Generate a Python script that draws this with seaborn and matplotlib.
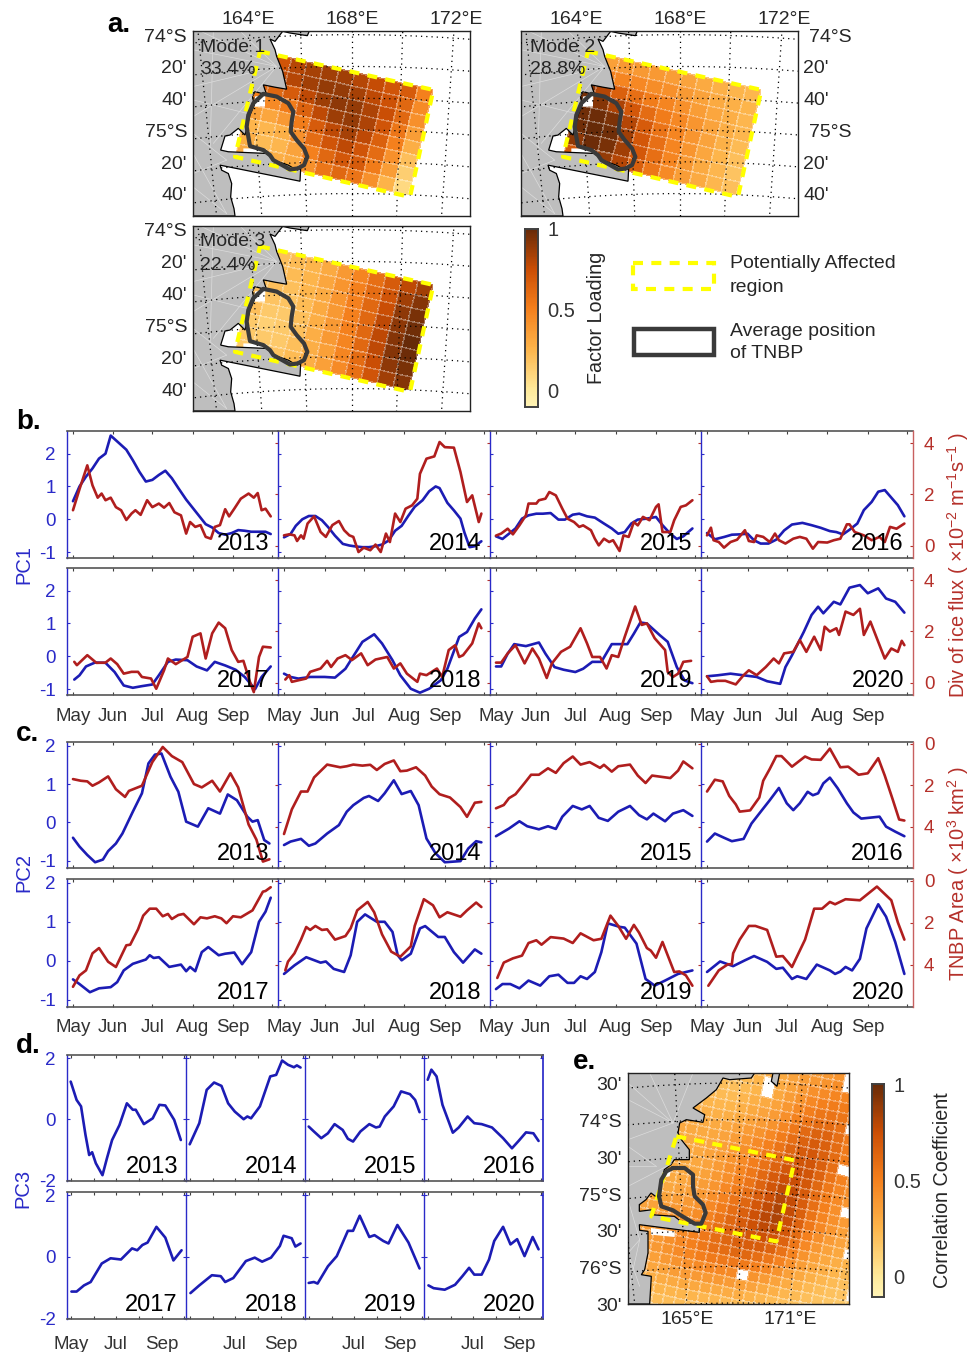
import numpy as np
import pandas as pd
import matplotlib
matplotlib.use("Agg")
import matplotlib.pyplot as plt
from matplotlib.colors import LinearSegmentedColormap
from matplotlib.patches import Polygon, Rectangle
import seaborn as sns

# (day since 1 May, value)
pc1_2013 = [(0,.55),(5,1.0),(10,1.3),(15,1.55),(20,1.85),(25,2.0),(29,2.55),(36,2.3),(41,2.12),(46,1.8),(51,1.45),(56,1.15),(61,1.2),(66,1.35),(71,1.48),(76,1.25),(81,.95),(87,.6),(92,.35),(97,.1),(102,-.15),(107,-.25),(112,-.42),(117,-.47),(122,-.42),(127,-.33),(132,-.35),(137,-.38),(142,-.38),(148,-.38),(152,-.45)]
pc1_2014 = [(0,-.55),(5,-.45),(9,-.2),(14,0),(19,.1),(24,.1),(29,-.03),(34,-.25),(39,-.5),(45,-.75),(50,-.8),(55,-.83),(60,-.85),(65,-.85),(70,-.82),(75,-.77),(80,-.65),(85,-.35),(90,-.2),(95,.1),(100,.38),(106,.58),(111,.85),(116,1.0),(119,.95),(125,.5),(130,.27),(135,.02),(138,-.4),(142,-.85),(146,-.82),(151,-.67)]
pc1_2015 = [(0,-.52),(5,-.6),(10,-.44),(15,-.28),(20,.02),(25,.12),(31,.17),(36,.17),(42,.19),(48,-.01),(53,-.01),(59,.14),(64,.17),(70,.09),(76,.05),(83,-.13),(89,-.28),(94,-.44),(99,-.39),(104,-.13),(109,-.01),(116,.02),(123,.07),(128,-.18),(134,-.44),(139,-.6),(144,-.52),(151,-.28)]
pc1_2016 = [(0,-.42),(6,-.61),(13,-.54),(19,-.47),(25,-.46),(31,-.44),(36,-.64),(41,-.74),(47,-.74),(53,-.62),(59,-.34),(65,-.16),(73,-.11),(80,-.18),(87,-.26),(94,-.36),(99,-.39),(104,-.46),(109,-.32),(115,-.13),(120,.28),(126,.53),(131,.84),(136,.89),(141,.66),(146,.43),(151,.09)]
pc1_2017 = [(1,-.71),(5,-.58),(10,-.31),(17,-.19),(25,-.2),(32,-.48),(39,-.89),(46,-.96),(53,-.91),(61,-.86),(66,-.58),(73,-.17),(79,-.1),(88,-.12),(95,-.31),(103,-.43),(109,-.17),(117,-.28),(125,-.41),(132,-.63),(140,-1),(145,-.63),(152,-.31)]
pc1_2018 = [(0,-.53),(5,-.63),(11,-.68),(20,-.63),(31,-.63),(39,-.65),(47,-.38),(53,0),(60,.44),(69,.67),(75,.39),(83,-.12),(89,-.58),(97,-.99),(104,-1.11),(111,-.99),(120,-.73),(125,-.38),(134,.59),(140,.74),(146,1.15),(151,1.43)]
pc1_2019 = [(0,-.31),(4,-.31),(9,.08),(14,.37),(23,.31),(33,.42),(38,.08),(45,-.33),(52,-.41),(61,-.48),(67,-.38),(74,-.17),(81,-.17),(89,.37),(101,.37),(106,.69),(111,1.03),(116,1),(126,.64),(132,.44),(139,-.33),(145,-.74),(151,-.82)]
pc1_2020 = [(0,-.61),(8,-.58),(18,-.53),(28,-.58),(38,-.63),(46,-.76),(56,-.84),(60,-.33),(65,.03),(74,.74),(80,1.26),(85,1.51),(89,1.31),(97,1.66),(102,1.58),(109,2.09),(117,2.17),(123,1.92),(131,2.07),(137,1.76),(144,1.66),(151,1.33)]

flux_2013 = [(0,1.38),(5,2.2),(11,3.13),(15,2.35),(19,1.87),(22,2.03),(25,1.77),(29,1.87),(33,1.5),(37,1.38),(41,1.0),(45,1.25),(48,1.38),(52,1.2),(57,1.77),(61,1.5),(66,1.64),(70,1.48),(74,1.66),(78,1.3),(83,1.18),(87,.47),(90,.92),(94,.73),(98,.8),(102,.34),(106,.27),(109,.73),(113,.8),(117,1.42),(120,1.14),(124,1.44),(129,1.83),(135,2.03),(139,1.87),(142,2.05),(145,1.38),(148,1.44),(152,1.14)]
flux_2014 = [(0,.4),(4,.44),(8,.4),(10,.18),(13,.4),(15,.27),(18,.86),(23,1.14),(28,.53),(32,.34),(37,.8),(42,.96),(46,.6),(50,.4),(53,.34),(57,-.25),(61,-.08),(66,-.18),(70,.04),(74,-.25),(78,.47),(81,.14),(85,1.25),(89,.92),(93,1.44),(98,1.57),(102,1.83),(104,2.8),(109,3.39),(115,3.48),(119,4.04),(123,3.84),(130,3.82),(135,2.87),(140,1.7),(144,1.96),(149,.92),(151,1.25)]
flux_2015 = [(0,.39),(4,.47),(9,.66),(13,.44),(18,.79),(23,1.18),(25,1.64),(31,1.64),(33,1.77),(38,1.83),(41,2.09),(46,1.96),(51,1.44),(55,1.05),(60,.92),(64,.73),(67,.79),(73,.6),(76,.27),(79,.01),(83,.27),(87,.14),(90,.21),(95,-.21),(98,.4),(102,.34),(106,.92),(109,.79),(113,1.12),(118,.99),(123,1.51),(125,1.61),(128,.53),(134,.53),(137,.99),(142,1.51),(146,1.57),(151,1.77)]
flux_2016 = [(0,.4),(3,.7),(5,.21),(9,.14),(13,-.08),(18,.14),(23,.23),(29,.6),(32,.18),(36,.14),(38,.4),(43,.34),(48,.14),(52,.47),(55,.21),(60,.08),(66,.27),(71,.34),(76,.27),(81,-.12),(85,.14),(92,.12),(97,.21),(102,.27),(107,.83),(109,.83),(113,.53),(120,.4),(126,.21),(132,.34),(136,.14),(140,.73),(145,.66),(151,.86)]
flux_2017 = [(1,.81),(3,.68),(11,1.07),(18,.77),(25,.78),(29,.94),(34,.72),(39,.35),(45,.42),(50,.42),(53,.22),(60,.16),(64,-.24),(70,.48),(73,.94),(79,.72),(88,1.0),(92,1.79),(98,1.92),(102,.94),(107,1.92),(112,2.34),(117,2.12),(122,1.27),(127,.81),(131,.85),(136,.03),(139,-.37),(143,1.0),(146,1.4),(152,1.37)]
flux_2018 = [(1,.12),(4,.29),(6,.03),(11,.09),(17,.16),(20,.42),(28,.55),(33,.85),(36,.61),(41,.94),(47,1.07),(52,.88),(59,1.14),(64,.68),(70,.9),(79,1.0),(84,.55),(89,.75),(94,.35),(102,.03),(104,.35),(109,.29),(117,.55),(121,.22),(126,1.27),(131,1.46),(134,1.0),(137,1.07),(144,1.53),(149,2.31),(151,2.12)]
flux_2019 = [(0,.78),(4,.78),(9,1.14),(15,1.46),(22,.75),(28,1.33),(33,.94),(39,.18),(43,.75),(50,1.2),(57,1.4),(65,2.12),(70,1.53),(74,1),(80,1),(85,.55),(89,1.07),(94,1),(99,1.79),(107,2.97),(112,2.25),(116,2.31),(122,1.73),(130,1.27),(132,.42),(136,.22),(140,.35),(144,.81),(150,.85)]
flux_2020 = [(0,.25),(3,.03),(8,.07),(14,.07),(22,-.07),(28,.29),(32,.48),(38,.29),(45,.61),(51,.94),(55,.75),(59,1.14),(66,1.2),(71,1.66),(76,1.2),(82,1.79),(87,1.27),(90,2.18),(94,1.99),(99,2.12),(101,1.86),(106,2.77),(112,2.64),(117,2.88),(120,1.86),(125,2.38),(132,1.46),(136,.94),(141,1.33),(146,1.2),(149,1.63),(151,1.46)]

pc2_2013 = [(0,-.4),(5,-.63),(11,-.85),(17,-1.04),(23,-.97),(27,-.75),(33,-.55),(38,-.29),(46,.28),(53,.76),(58,1.54),(63,1.77),(68,1.8),(75,1.19),(81,.8),(87,.02),(96,-.11),(104,.37),(113,.23),(119,.73),(126,.58),(134,.15),(138,.02),(142,.06),(147,-.46),(151,-.55)]
pc2_2014 = [(0,-.59),(5,-.5),(13,-.43),(19,-.61),(24,-.55),(33,-.29),(42,-.07),(48,.28),(53,.45),(61,.64),(65,.69),(72,.56),(77,.76),(84,1.1),(90,.74),(97,.82),(103,.45),(109,-.42),(116,-.81),(123,-1.04),(135,-1.01),(141,-.68),(147,-.49),(151,-.52)]
pc2_2015 = [(0,-.36),(10,-.16),(18,.03),(24,-.1),(33,-.18),(40,-.1),(46,-.17),(51,.15),(59,.43),(66,.34),(72,.43),(79,.12),(86,.04),(94,.28),(103,.43),(110,.19),(116,.08),(121,.23),(130,.03),(136,.23),(144,.32),(151,.17)]
pc2_2016 = [(0,-.5),(6,-.29),(13,-.4),(19,-.49),(28,-.43),(34,-.03),(42,.32),(48,.58),(55,.9),(61,.5),(66,.32),(71,.5),(77,.8),(81,.71),(85,.76),(89,1.02),(94,1.17),(100,.89),(107,.5),(112,.26),(118,.1),(132,.15),(137,-.11),(144,-.24),(151,-.36)]
pc2_2017 = [(0,-.48),(5,-.6),(13,-.81),(20,-.71),(29,-.68),(34,-.55),(39,-.25),(46,-.08),(56,.03),(59,.14),(62,.07),(66,.09),(74,-.16),(83,-.1),(87,-.27),(90,-.16),(94,-.27),(99,.22),(104,.35),(112,.14),(117,.18),(124,.21),(130,-.09),(137,.22),(143,1),(148,1.26),(152,1.62)]
pc2_2018 = [(0,-.34),(8,-.12),(17,.09),(28,-.05),(32,-.02),(38,-.21),(46,-.29),(51,.14),(56,1),(62,1.19),(71,1),(77,1),(83,.74),(87,.14),(90,.01),(97,.18),(104,.83),(108,.89),(118,.61),(123,.61),(130,.22),(137,-.05),(146,.29),(151,.18)]
pc2_2019 = [(0,-.73),(5,-.6),(11,-.6),(18,-.71),(25,-.51),(34,-.64),(41,-.4),(48,-.36),(55,-.57),(60,-.57),(65,-.4),(70,-.47),(76,-.29),(81,.22),(86,.96),(95,.87),(99,.85),(108,.44),(115,-.47),(122,-.64),(130,-.51),(140,-.34),(151,-.25)]
pc2_2020 = [(0,-.29),(10,-.02),(20,-.14),(29,.01),(36,.12),(46,-.03),(53,-.21),(58,-.18),(65,-.47),(69,-.4),(76,-.47),(84,-.1),(94,-.25),(98,-.34),(102,-.28),(106,-.16),(111,-.25),(117,.05),(122,.83),(131,1.45),(137,1.13),(144,.48),(151,-.34)]

area_2013 = [(0,1.71),(6,1.79),(11,1.82),(15,2.03),(20,1.87),(27,1.58),(33,2.2),(40,2.57),(43,2.28),(53,2.03),(61,.89),(69,.16),(76,.6),(84,.89),(93,1.95),(99,2.11),(107,1.79),(113,2.31),(121,1.43),(127,2.11),(135,3.9),(141,4.63),(146,5.69),(151,5.58)]
area_2014 = [(0,4.36),(6,3.17),(13,2.31),(18,2.31),(23,1.63),(33,1.01),(43,1.14),(48,1.09),(53,1.01),(60,1.06),(66,1.02),(71,1.27),(77,.98),(84,.81),(89,1.33),(94,1.3),(101,1.14),(108,1.54),(113,2.07),(119,2.44),(127,2.6),(135,3.06),(140,3.53),(146,2.85),(151,2.81)]
area_2015 = [(0,3.12),(6,2.96),(10,2.63),(15,2.44),(22,1.9),(27,1.5),(33,1.5),(40,1.19),(46,1.41),(52,.94),(59,.62),(65,1.01),(72,.89),(80,1.17),(83,1.02),(89,1.35),(94,1.09),(103,1.01),(109,1.54),(115,1.9),(120,1.54),(134,1.66),(140,1.3),(144,.86),(151,1.19)]
area_2016 = [(0,2.31),(6,1.74),(12,1.82),(17,2.52),(22,2.93),(25,3.28),(33,3.22),(40,2.6),(43,1.79),(48,1.22),(53,.6),(57,.6),(65,1.11),(75,.62),(80,.76),(87,.78),(94,.24),(102,1.14),(108,1.11),(116,1.5),(123,1.43),(131,.7),(136,1.54),(142,2.68),(147,3.66),(151,3.71)]
area_2017 = [(0,5.04),(5,4.5),(10,4.26),(15,3.45),(20,3.2),(27,3.85),(33,4.1),(41,3.07),(44,3.04),(50,2.31),(54,1.66),(59,1.33),(64,1.33),(69,1.69),(73,1.58),(76,1.82),(81,1.63),(85,1.58),(93,2.07),(98,1.74),(103,1.79),(109,1.69),(114,1.79),(118,2.02),(123,1.69),(129,1.74),(138,1.41),(146,.52),(148,.49),(152,.31)]
area_2018 = [(1,4.26),(3,3.85),(8,3.45),(13,2.8),(17,2.2),(20,2.34),(24,2.15),(29,2.34),(33,2.31),(39,2.8),(47,2.63),(51,2.26),(56,1.41),(64,1.01),(69,1.5),(75,2.55),(82,3.37),(89,3.61),(97,3.12),(100,2.15),(107,.88),(114,1.17),(119,1.74),(125,1.5),(135,1.71),(140,1.41),(147,1.04),(151,1.25)]
area_2019 = [(1,4.62),(6,3.89),(13,3.69),(20,3.56),(25,2.96),(31,2.83),(35,3.04),(42,2.68),(52,2.75),(59,2.96),(65,2.5),(75,2.83),(81,2.76),(88,1.66),(94,2.15),(100,2.76),(106,2.1),(110,2.47),(116,3.2),(119,3.32),(123,3.66),(128,2.91),(137,4.34),(141,4.31),(146,4.5),(151,4.99)]
area_2020 = [(1,4.99),(9,4.26),(16,3.97),(19,3.97),(20,3.45),(25,2.8),(32,2.15),(37,2.15),(46,2.34),(53,3.61),(58,3.58),(65,4.1),(75,2.8),(82,1.33),(88,1.33),(94,1.01),(98,1.12),(106,.88),(117,.93),(130,.28),(141,.93),(146,1.98),(151,2.8)]

pc3_2013 = [(0,1.23),(8,.63),(14,.42),(20,-.51),(25,-1.17),(29,-1.08),(34,-1.44),(43,-1.83),(49,-1.28),(56,-.68),(66,-.19),(76,.52),(84,.31),(88,.31),(99,-.16),(111,.03),(120,.47),(128,.45),(140,-.02),(149,-.68)]
pc3_2014 = [(0,-.82),(13,-.13),(23,.96),(33,1.2),(43,1.09),(52,.52),(61,.25),(73,0),(78,.09),(83,.03),(95,.42),(109,1.4),(117,1.45),(125,1.92),(133,1.78),(141,1.7),(145,1.76),(150,1.69)]
pc3_2015 = [(0,-.24),(7,-.4),(17,-.62),(26,-.46),(35,-.16),(46,-.35),(53,-.64),(60,-.73),(70,-.4),(82,-.16),(91,-.27),(96,-.24),(103,.09),(115,.42),(125,.91),(137,.82),(144,.63),(150,.23)]
pc3_2016 = [(0,1.29),(5,1.62),(12,1.4),(20,.47),(34,-.44),(42,-.27),(54,.09),(63,-.13),(73,-.16),(87,-.27),(102,-.62),(114,-.95),(123,-.71),(133,-.43),(143,-.46),(150,-.71)]
pc3_2017 = [(1,-1.13),(8,-1.13),(18,-.93),(27,-.82),(42,-.22),(54,-.05),(68,-.09),(83,.27),(90,.21),(97,.38),(104,.46),(116,.97),(128,.62),(139,-.12),(150,.21)]
pc3_2018 = [(1,-1.18),(13,-.93),(30,-.6),(42,-.63),(48,-.82),(59,-.69),(76,-.14),(88,-.03),(98,-.16),(110,-.03),(122,.35),(127,.68),(138,.6),(143,.33),(150,.43)]
pc3_2019 = [(0,-.85),(7,-.82),(12,-.87),(26,-.31),(38,.02),(53,.84),(60,.84),(69,1.33),(82,.64),(89,.7),(101,.51),(108,.43),(120,1.03),(135,.46),(150,-.38)]
pc3_2020 = [(1,-.93),(8,-1.02),(23,-1.07),(37,-.91),(47,-.63),(56,-.36),(63,-.58),(73,-.58),(83,-.09),(90,.51),(102,.97),(112,.4),(121,.57),(131,.02),(142,.64),(150,.24)]

years = [2013, 2014, 2015, 2016, 2017, 2018, 2019, 2020]
month_days = [0, 31, 61, 92, 123, 153]
month_labels = ["May", "Jun", "Jul", "Aug", "Sep", ""]

n = np.nan
mode1 = [[n,.72,.80,.84,.85,.85,.80,.76,.72,.68,.50],
         [n,.78,.80,.85,.88,.88,.84,.78,.73,.62,.45],
         [.60,.62,.68,.78,.86,.90,.88,.82,.75,.62,.42],
         [.50,.45,.52,.65,.78,.86,.88,.82,.72,.55,.36],
         [.35,.32,.38,.52,.68,.78,.84,.78,.66,.50,.28],
         [.25,.24,.27,.42,.60,.72,.78,.72,.60,.42,.20],
         [.28,.22,.24,.33,.50,.62,.70,.68,.52,.36,.13],
         [.30,.30,.28,.30,.42,.55,.62,.56,.42,.26,.08]]
mode2 = [[n,.35,.38,.38,.38,.36,.33,.30,.27,.25,.24],
         [n,.50,.48,.46,.44,.42,.38,.34,.30,.27,.25],
         [.90,.80,.66,.58,.52,.48,.42,.36,.32,.28,.24],
         [.96,.92,.82,.70,.60,.52,.46,.40,.33,.28,.24],
         [.97,.98,.94,.80,.68,.56,.48,.40,.33,.27,.22],
         [.97,1.0,.97,.85,.70,.58,.48,.40,.32,.25,.20],
         [.90,.98,.95,.85,.70,.58,.48,.38,.30,.24,.18],
         [.70,.85,.88,.80,.66,.55,.45,.36,.30,.24,.20]]
mode3 = [[n,.20,.22,.25,.30,.38,.48,.58,.68,.78,.85],
         [n,.22,.22,.25,.32,.40,.50,.60,.72,.85,.92],
         [.20,.20,.20,.25,.30,.40,.50,.62,.75,.90,.95],
         [.20,.18,.18,.22,.30,.38,.50,.62,.78,.90,.97],
         [.20,.15,.15,.20,.28,.38,.50,.62,.78,.92,1.0],
         [.15,.12,.15,.20,.28,.38,.48,.62,.78,.92,.98],
         [.15,.15,.15,.20,.28,.35,.48,.60,.75,.90,.95],
         [.15,.15,.18,.22,.28,.35,.45,.58,.72,.85,.92]]

corr = [[20,20,20,20,20,22,22,24,26,28,30,32,34,36,38,40,n,n,n,n,n],
        [20,20,20,20,20,21,22,24,26,28,30,33,36,38,41,44,n,n,n,n,n],
        [20,20,20,20,20,20,20,22,25,n,30,34,38,42,45,48,48,46,44,41,38],
        [20,20,20,20,20,20,20,22,25,n,31,36,41,46,50,52,52,49,46,42,38],
        [24,24,24,24,23,22,22,24,27,30,33,39,45,51,55,56,55,51,47,42,38],
        [26,26,26,26,25,24,25,27,30,33,37,43,49,56,60,60,57,n,n,n,n],
        [28,28,28,27,27,27,28,30,33,37,41,47,54,61,65,64,59,53,47,42,38],
        [30,30,30,29,29,30,31,33,37,41,46,52,59,65,68,66,60,53,47,42,38],
        [30,30,30,30,30,31,33,36,40,45,50,56,63,68,70,66,60,52,46,41,38],
        [30,30,30,30,31,32,35,38,42,48,54,60,66,71,71,66,58,n,n,n,n],
        [30,30,30,30,31,33,36,40,45,51,57,64,70,74,71,64,56,49,44,39,36],
        [30,30,30,30,31,33,37,42,47,54,61,68,74,75,70,62,54,47,42,38,35],
        [30,30,30,30,31,34,38,43,49,56,64,71,77,76,68,60,52,45,40,36,33],
        [30,30,30,31,33,36,40,46,52,59,67,74,80,76,67,58,50,43,n,n,n],
        [30,31,31,33,35,38,43,49,56,63,70,77,82,76,66,56,48,42,37,33,30],
        [32,33,34,36,38,41,46,52,59,66,73,79,82,75,64,54,46,40,35,32,30],
        [33,34,36,38,41,44,49,55,62,68,73,78,78,70,60,50,43,37,33,30,28],
        [34,35,37,40,43,47,52,58,64,68,71,73,72,64,55,46,39,34,31,n,n],
        [35,36,38,41,45,49,54,59,63,66,67,67,64,57,49,41,35,31,28,26,24],
        [35,36,38,42,46,50,54,58,60,62,62,59,55,49,42,36,31,28,25,23,22],
        [34,36,38,41,45,48,51,53,54,54,53,50,46,41,35,31,27,24,22,20,19],
        [32,33,35,38,41,43,45,46,46,45,n,41,37,33,29,26,23,21,19,18,n],
        [28,30,32,34,36,37,38,38,38,37,35,33,30,27,24,22,20,18,17,16,15],
        [25,26,28,29,30,31,31,31,30,29,28,26,24,22,20,18,17,16,15,14,14],
        [22,23,24,25,25,25,25,24,24,23,22,21,19,18,17,15,14,14,13,13,13],
        [19,20,20,21,21,21,20,20,19,18,17,16,15,14,13,13,12,12,12,12,12],
        [17,18,18,18,17,17,16,16,15,14,14,13,13,12,12,11,11,11,11,11,11]]

W, H = 971, 1352
BLUE = "#1C1CB4"
BLUE_TXT = "#2A2AC8"
RED = "#B01E1E"
RED_TXT = "#B5302A"
GREY = "#404040"
YELLOW = "#FFFF00"
LAND = "#BEBEBE"
TNBP = "#3A3A3A"

sns.set_theme(style="ticks")
plt.rcParams["font.family"] = ["Liberation Sans", "DejaVu Sans"]
plt.rcParams["mathtext.default"] = "regular"
plt.rcParams["axes.unicode_minus"] = False

cmap = LinearSegmentedColormap.from_list(
    "loading",
    [(0, "#FFF3B5"), (.09, "#FEE99A"), (.32, "#FDB44A"), (.55, "#F47F1C"), (.77, "#CB4E05"), (1, "#662A08")],
)

fig = plt.figure(figsize=(W / 100, H / 100), dpi=100, facecolor="white")


def px_axes(left, top, right, bottom):
    return fig.add_axes([left / W, 1 - bottom / H, (right - left) / W, (bottom - top) / H])


over = fig.add_axes([0, 0, 1, 1], zorder=20)
over.set_xlim(0, W)
over.set_ylim(H, 0)
over.axis("off")


def label(x, y, s, size=13.5, color="#262626", ha="left", **kw):
    over.text(x, y + 2, s, fontsize=size, color=color, ha=ha, va="center", **kw)


def vlabel(x, y, s, size, color):
    over.text(x, y, s, fontsize=size, color=color, ha="center", va="center", rotation=90)


def draw_line(ax, series, color):
    df = pd.DataFrame(series, columns=["day", "value"])
    sns.lineplot(data=df, x="day", y="value", ax=ax, color=color, lw=1.9, estimator=None, sort=False, legend=False)
    ax.set_xlabel("")
    ax.set_ylabel("")


def series_panel(box, year, blue, red, ylim, yticks, xlim, rlim=None, rticks=None, first=False, last=False,
                 bottom=False, xlabels=month_labels, text_right=9, xpad=9):
    ax = px_axes(*box)
    draw_line(ax, blue, BLUE)
    ax.set_xlim(*xlim)
    ax.set_ylim(*ylim)
    ax.set_xticks(month_days)
    ax.set_yticks(yticks)
    ax.tick_params(axis="x", direction="in", length=2.5, width=.8, color=GREY, top=True, bottom=True, pad=xpad,
                   labelsize=13.5, labelcolor="#333333", labelbottom=bottom)
    if bottom:
        ax.set_xticklabels(xlabels)
    ax.tick_params(axis="y", direction="in", length=2.5, width=.8, color=BLUE_TXT, left=True, labelleft=first,
                   labelsize=13.5, labelcolor=BLUE_TXT, pad=8)
    for s in ["top", "bottom"]:
        ax.spines[s].set_color("#555555")
        ax.spines[s].set_linewidth(1.2)
    ax.spines["left"].set_color(BLUE_TXT)
    ax.spines["left"].set_linewidth(1.0)
    ax.spines["right"].set_visible(False)
    if red is not None:
        axr = ax.twinx()
        draw_line(axr, red, RED)
        axr.set_xlim(*xlim)
        axr.set_ylim(*rlim)
        axr.set_yticks(rticks)
        axr.tick_params(axis="y", direction="in", length=2.5, width=.8, color=RED_TXT, right=True, labelright=last,
                        labelsize=13.5, labelcolor=RED_TXT, pad=8)
        for s in ["top", "bottom", "left"]:
            axr.spines[s].set_visible(False)
        axr.spines["right"].set_visible(last)
        axr.spines["right"].set_color("#C86060")
        axr.spines["right"].set_linewidth(1.0)
    else:
        ax.tick_params(axis="y", right=True)
        if last:
            ax.spines["right"].set_visible(True)
            ax.spines["right"].set_color(BLUE_TXT)
    over.text(box[2] - text_right, (box[1] + box[3]) / 2 + (box[3] - box[1]) * .39, str(year), fontsize=17,
              color="black", ha="right", va="center")
    return ax


# panels b and c
cols_bc = [(67, 278), (278, 490), (490, 701), (701, 913)]
sets = [
    ([(431, 558), (568, 695)], [pc1_2013, pc1_2014, pc1_2015, pc1_2016, pc1_2017, pc1_2018, pc1_2019, pc1_2020],
     [flux_2013, flux_2014, flux_2015, flux_2016, flux_2017, flux_2018, flux_2019, flux_2020],
     (-1.18, 2.69), [-1, 0, 1, 2], (-.483, 4.47)),
    ([(742, 868), (879, 1007)], [pc2_2013, pc2_2014, pc2_2015, pc2_2016, pc2_2017, pc2_2018, pc2_2019, pc2_2020],
     [area_2013, area_2014, area_2015, area_2016, area_2017, area_2018, area_2019, area_2020],
     (-1.19, 2.1), [-1, 0, 1, 2], (6.0, -.08)),
]
for rows, blues, reds, ylim, yticks, rlim in sets:
    for k, year in enumerate(years):
        r, c = k // 4, k % 4
        box = (cols_bc[c][0], rows[r][0], cols_bc[c][1], rows[r][1])
        series_panel(box, year, blues[k], reds[k], ylim, yticks, (-4.6, 157.6), rlim, [0, 2, 4],
                     first=c == 0, last=c == 3, bottom=r == 1)

# panel d
cols_d = [(67, 186), (186, 305), (305, 424), (424, 543)]
rows_d = [(1055, 1181), (1192, 1319)]
pc3 = [pc3_2013, pc3_2014, pc3_2015, pc3_2016, pc3_2017, pc3_2018, pc3_2019, pc3_2020]
for k, year in enumerate(years):
    r, c = k // 4, k % 4
    box = (cols_d[c][0], rows_d[r][0], cols_d[c][1], rows_d[r][1])
    labs = ["May" if c == 0 else "", "", "Jul", "", "Sep", ""]
    series_panel(box, year, pc3[k], None, (-2.02, 2.1), [-2, 0, 2], (-5, 156), first=c == 0, last=c == 3,
                 bottom=r == 1, xlabels=labs, text_right=8, xpad=12)

vlabel(24, 564, "PC1", 14.5, BLUE_TXT)
vlabel(24, 873, "PC2", 14.5, BLUE_TXT)
vlabel(23, 1188, "PC3", 14.5, BLUE_TXT)
vlabel(958, 565, "Div of ice flux ( $\\times$10$^{-2}$ m$^{-1}$s$^{-1}$ )", 14.4, RED_TXT)
vlabel(958, 873, "TNBP Area ( $\\times$10$^{3}$ km$^{2}$ )", 14.4, RED_TXT)

# maps, outlines traced in the coordinates of a 3x view of each panel
land_a = [(279,94),(628,94),(622,108),(570,100),(548,95),(525,125),(510,118),(525,150),(530,170),(548,215),(560,268),(525,262),(490,255),(500,285),(465,275),(457,290),(463,315),(450,345),(440,385),(435,405),(415,385),(390,405),(375,408),(362,450),(385,455),(500,460),(520,480),(565,495),(590,510),(602,505),(600,543),(360,495),(365,510),(385,520),(395,550),(392,590),(402,625),(405,647),(279,647)]
white_a = [[(465,290),(495,285),(495,320),(460,320)], [(370,418),(410,420),(410,450),(370,452)], [(430,445),(475,445),(500,460),(430,458)]]
tnbp_a = [(490,282),(530,290),(565,310),(580,335),(575,365),(572,395),(590,420),(612,445),(622,470),(612,495),(592,505),(570,508),(520,480),(510,465),(490,450),(450,438),(445,410),(440,380),(445,345),(460,310),(490,282)]
rect_a = [(480,155),(1000,270),(930,590),(405,470),(480,155)]
fan_a = [((530,200),(279,150)), ((530,200),(279,260)), ((530,200),(279,350)), ((530,200),(340,430)), ((530,200),(300,94)), ((530,200),(420,94)),
         ((380,640),(279,460)), ((380,640),(279,560)), ((380,480),(279,400)), ((380,480),(279,520)), ((440,340),(279,300)), ((340,94),(330,460))]

land_e = [(205,100),(585,100),(575,115),(510,120),(490,115),(470,150),(440,175),(400,205),(435,225),(430,248),(380,240),(360,250),(355,280),(365,300),(389,330),(389,360),(344,360),(334,375),(314,390),(304,430),(294,475),(274,460),(259,480),(239,495),(239,515),(279,510),(274,525),(344,530),(364,545),(419,555),(419,578),(239,555),(240,572),(265,575),(265,640),(255,690),(245,705),(275,710),(270,793),(205,793)]
land_e2 = [(640,100),(660,100),(652,140),(635,125)]
white_e = [[(274,565),(345,575),(345,592),(274,585)], [(312,400),(335,385),(330,410),(318,412)], [(239,515),(279,510),(274,528),(239,528)]]
tnbp_e = [(340,385),(375,385),(400,405),(400,440),(405,470),(430,495),(438,520),(425,552),(405,552),(360,525),(340,512),(305,500),(298,470),(305,420),(320,395),(340,385)]
rect_e = [(350,290),(705,362),(650,605),(275,530),(350,290)]
fan_e = [((340,250),(205,180)), ((340,250),(205,300)), ((340,250),(270,100)), ((340,250),(400,100)), ((340,250),(205,130)), ((290,380),(205,380)),
         ((290,380),(205,320)), ((240,600),(205,480)), ((240,600),(205,640)), ((240,600),(205,760)), ((240,740),(205,640)), ((340,370),(205,440))]


def map_panel(box, xlim, ylim, values, origin, u, v, land, extra_land, white, tnbp, rect, fan, proj, lats, lons):
    ax = px_axes(*box)
    ax.set_xlim(*xlim)
    ax.set_ylim(*ylim)
    vals = np.ma.masked_invalid(np.array(values, dtype=float))
    nr, nc = vals.shape
    jj, ii = np.meshgrid(np.arange(nc + 1), np.arange(nr + 1))
    gx = origin[0] + jj * u[0] + ii * v[0]
    gy = origin[1] + jj * u[1] + ii * v[1]
    ax.pcolormesh(gx, gy, vals, cmap=cmap, vmin=-.1, vmax=1, edgecolors=(1, 1, 1, .3), linewidth=.3, zorder=1)
    for w in white:
        ax.add_patch(Polygon(w, closed=True, fc="white", ec="none", zorder=1.5))
    patch = Polygon(land, closed=True, fc=LAND, ec="black", lw=.9, zorder=2)
    ax.add_patch(patch)
    for e in extra_land:
        ax.add_patch(Polygon(e, closed=True, fc=LAND, ec="black", lw=.9, zorder=2))
    for p, q in fan:
        ln, = ax.plot([p[0], q[0]], [p[1], q[1]], color="#DCDCDC", lw=.5, zorder=2.2)
        ln.set_clip_path(patch)
    x0, y0, s, cone = proj
    for lat in lats:
        th = np.radians(cone * (np.linspace(150, 185, 80) - 168))
        r = 90 + lat
        ax.plot(x0 + s * r * np.sin(th), y0 + s * (15 - r * np.cos(th)), color="black", lw=.9, ls=(0, (1, 3.2)), zorder=3)
    for lon in lons:
        th = np.radians(cone * (lon - 168))
        r = 90 + np.linspace(-77.5, -72.5, 40)
        ax.plot(x0 + s * r * np.sin(th), y0 + s * (15 - r * np.cos(th)), color="black", lw=.9, ls=(0, (1, 3.2)), zorder=3)
    rx, ry = zip(*rect)
    ax.plot(rx, ry, color=YELLOW, lw=3, ls=(0, (2.4, 2.0)), zorder=4)
    tx, ty = zip(*tnbp)
    ax.plot(tx, ty, color=TNBP, lw=3, zorder=5, solid_joinstyle="round")
    ax.set_xticks([])
    ax.set_yticks([])
    for sp in ax.spines.values():
        sp.set_color("#222222")
        sp.set_linewidth(1.0)
    return ax


a_lats = [-74 - k / 3 for k in range(-1, 7)]
a_lons = list(range(158, 180, 2))
a_grid = dict(origin=(480, 155), u=(47.3, 10.45), v=(-9.4, 39.4))
a_proj = (755, 390, 285, .96)
for box, vals in [((193, 31, 470, 216), mode1), ((521, 31, 798, 216), mode2), ((193, 226, 470, 411), mode3)]:
    map_panel(box, (279, 1110), (647, 94), vals, a_grid["origin"], a_grid["u"], a_grid["v"], land_a, [], white_a,
              tnbp_a, rect_a, fan_a, a_proj, a_lats, a_lons)

map_panel((628, 1073, 849, 1304), (205, 868), (793, 100), np.array(corr, dtype=float) / 100, (330, -10), (33, 6.7), (-6, 30),
          land_e, [land_e2], white_e, tnbp_e, rect_e, fan_e, (537, 460, 220, 1.0),
          [-73.5, -74, -74.5, -75, -75.5, -76, -76.5], list(range(159, 181, 3)))


def colorbar(box, ticks, labels, pad):
    ax = px_axes(*box)
    levels = np.linspace(-.1, 1.0, 200)
    ax.pcolormesh([0, 1], np.append(levels, 1.003), levels[:, None], cmap=cmap, vmin=-.1, vmax=1)
    ax.set_xlim(0, 1)
    ax.set_ylim(-.105, 1.0)
    ax.set_xticks([])
    ax.yaxis.tick_right()
    ax.set_yticks(ticks)
    ax.set_yticklabels(labels)
    ax.tick_params(axis="y", direction="in", length=2, width=.7, color="#333333", labelsize=14.5, labelcolor="#333333", pad=pad)
    for sp in ax.spines.values():
        sp.set_color(GREY)
        sp.set_linewidth(1.4)


colorbar((525, 229, 538, 407), [0, .5, 1], ["0", "0.5", "1"], 6.5)
colorbar((872, 1084, 884, 1297), [0, .5, 1], ["0", "0.5", "1"], 6.5)
vlabel(596, 318, "Factor Loading", 14.2, "#262626")
vlabel(943, 1190, "Correlation Coefficient", 14.2, "#262626")

# legend of panel a
over.add_patch(Rectangle((633, 263), 81, 26, fc="none", ec=YELLOW, lw=3, ls=(0, (2.4, 2.0))))
over.add_patch(Rectangle((634, 329), 80, 26, fc="none", ec=TNBP, lw=3.2))
label(730, 261, "Potentially Affected", 14)
label(730, 285, "region", 14)
label(730, 329, "Average position", 14)
label(730, 352, "of TNBP", 14)

# map labels
for x, s in [(248, "164°E"), (352, "168°E"), (456, "172°E"), (576, "164°E"), (680, "168°E"), (784, "172°E")]:
    label(x, 18, s, 14, ha="center")
lat_labels = ["74°S", "20'", "40'", "75°S", "20'", "40'"]
for k, s in enumerate(lat_labels):
    label(187, 35 + k * 31.8, s, 14, ha="right")
    label(187, 230 + k * 31.8, s, 14, ha="right")
    label(809 if "S" in s else 803, 35 + k * 31.8, s, 14)
for k, s in enumerate(["30'", "74°S", "30'", "75°S", "30'", "76°S", "30'"]):
    label(622, 1084 + k * 36.7, s, 14, ha="right")
label(687, 1317, "165°E", 14, ha="center")
label(790, 1317, "171°E", 14, ha="center")

label(200, 45, "Mode 1", 14)
label(200, 68, "33.4%", 14)
label(530, 45, "Mode 2", 14)
label(530, 68, "28.8%", 14)
label(200, 240, "Mode 3", 14)
label(200, 263, "22.4%", 14)

for x, y, s in [(107, 23, "a."), (16, 420, "b."), (16, 732, "c."), (16, 1044, "d."), (573, 1060, "e.")]:
    label(x, y, s, 20, "black", fontweight="bold")

fig.savefig("out.png", dpi=100)
